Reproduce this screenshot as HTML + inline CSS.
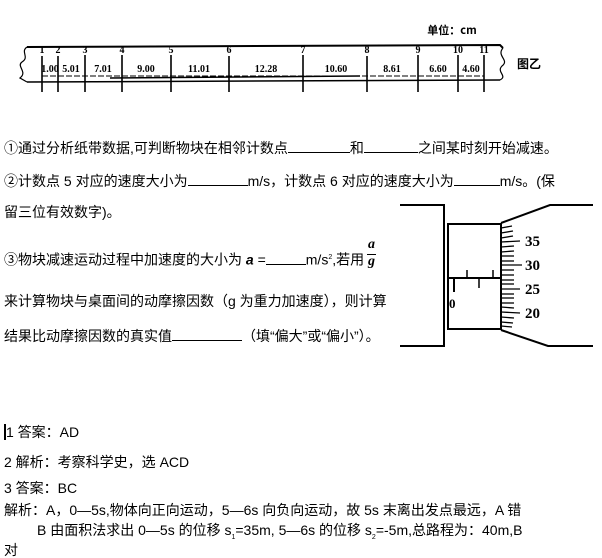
<!DOCTYPE html>
<html><head><meta charset="utf-8"><style>
body{margin:0;width:602px;height:558px;background:#fff;position:relative;overflow:hidden;font-family:"Liberation Sans","Noto Sans CJK SC",sans-serif;color:#000}
.t{position:absolute;white-space:nowrap;font-size:14px;line-height:16px}
.b{display:inline-block;border-bottom:1.5px solid #000;height:12px;vertical-align:baseline}
</style></head><body>
<svg width="602" height="558" style="position:absolute;left:0;top:0" font-family="Liberation Serif,serif">
<g stroke="#000" fill="none">
<path d="M27 47 L500 45 L502 47 L503 48" stroke-width="2"/>
<path d="M27 82 L500 80" stroke-width="1.5"/>
<path d="M27 47 C20 52,30 57,22 62 C16 66,28 72,20 78 L27 82" stroke-width="1.2"/>
<path d="M503 48 C496 56,510 60,502 66 C496 72,508 76,500 80" stroke-width="1.2"/>
<path d="M42 76 L484 76" stroke-width="1" stroke-dasharray="6 2"/>
<path d="M110 78 L360 76" stroke-width="1.5"/>
</g>
<g stroke="#000" stroke-width="1.6">
<line x1="42" y1="56" x2="42" y2="92"/><line x1="58" y1="56" x2="58" y2="92"/><line x1="85" y1="55" x2="85" y2="92"/><line x1="122" y1="55" x2="122" y2="92"/><line x1="171" y1="55" x2="171" y2="92"/><line x1="229" y1="56" x2="229" y2="92"/><line x1="303" y1="55" x2="303" y2="92"/><line x1="367" y1="56" x2="367" y2="92"/><line x1="418" y1="55" x2="418" y2="92"/><line x1="458" y1="55" x2="458" y2="92"/><line x1="484" y1="55" x2="484" y2="92"/>
</g>
<g font-size="10" font-weight="bold" text-anchor="middle">
<text x="42" y="53">1</text><text x="58" y="53">2</text><text x="85" y="53">3</text><text x="122" y="53">4</text><text x="171" y="53">5</text><text x="229" y="53">6</text><text x="303" y="53">7</text><text x="367" y="53">8</text><text x="418" y="53">9</text><text x="458" y="53">10</text><text x="484" y="53">11</text>
<text x="50" y="72">1.00</text><text x="71" y="72">5.01</text><text x="103" y="72">7.01</text><text x="146" y="72">9.00</text><text x="199" y="72">11.01</text><text x="266" y="72">12.28</text><text x="336" y="72">10.60</text><text x="392" y="72">8.61</text><text x="438" y="72">6.60</text><text x="471" y="72">4.60</text>
<text x="452" y="34" font-size="11" font-family="Noto Sans CJK SC,sans-serif">单位：cm</text>
<text x="529" y="68" font-size="12" font-family="Noto Sans CJK SC,sans-serif">图乙</text>
</g>
<g stroke="#000" fill="none" stroke-width="2">
<path d="M400 205 L444 205 L444 346 L400 346"/>
<rect x="448" y="224" width="53" height="105"/>
<line x1="448" y1="278" x2="501" y2="278"/>
<path d="M501 223 L550 205 L593 205"/>
<path d="M501 330 L548 346 L593 346"/>
<line x1="454" y1="279" x2="454" y2="292"/>
<line x1="467" y1="270" x2="467" y2="278" stroke-width="1.5"/>
<line x1="479" y1="278" x2="479" y2="288" stroke-width="1.5"/>
<line x1="493" y1="270" x2="493" y2="278" stroke-width="1.5"/>
</g>
<g stroke="#000" stroke-width="1.3">
<line x1="501" y1="228" x2="512" y2="226"/><line x1="501" y1="233" x2="513" y2="231"/><line x1="501" y1="238" x2="513" y2="236"/><line x1="501" y1="242" x2="520" y2="241"/><line x1="501" y1="247" x2="514" y2="246"/><line x1="501" y1="252" x2="514" y2="251"/><line x1="501" y1="256" x2="514" y2="256"/><line x1="501" y1="261" x2="514" y2="261"/><line x1="501" y1="265" x2="522" y2="265"/><line x1="501" y1="270" x2="514" y2="270"/><line x1="501" y1="275" x2="514" y2="275"/><line x1="501" y1="280" x2="514" y2="280"/><line x1="501" y1="284" x2="514" y2="284"/><line x1="501" y1="289" x2="520" y2="289"/><line x1="501" y1="294" x2="514" y2="294"/><line x1="501" y1="298" x2="514" y2="298"/><line x1="501" y1="303" x2="514" y2="303"/><line x1="501" y1="307" x2="514" y2="308"/><line x1="501" y1="312" x2="520" y2="313"/><line x1="501" y1="317" x2="514" y2="318"/><line x1="501" y1="322" x2="513" y2="323"/><line x1="501" y1="326" x2="512" y2="327"/>
</g>
<g font-size="15" font-weight="bold">
<text x="525" y="246">35</text><text x="525" y="270">30</text><text x="525" y="294">25</text><text x="525" y="318">20</text>
<text x="449" y="308" font-size="13">0</text>
</g>
</svg>
<div class="t" style="left:4px;top:140px">①通过分析纸带数据,可判断物块在相邻计数点<span class="b" style="width:62px"></span>和<span class="b" style="width:54px"></span>之间某时刻开始减速。</div>
<div class="t" style="left:4px;top:173px">②计数点 5 对应的速度大小为<span class="b" style="width:60px"></span>m/s，计数点 6 对应的速度大小为<span class="b" style="width:46px"></span>m/s。(保</div>
<div class="t" style="left:4px;top:204px">留三位有效数字)。</div>
<div class="t" style="left:4px;top:250px">③物块减速运动过程中加速度的大小为 <b><i>a</i></b> =<span class="b" style="width:40px"></span>m/s<sup style="font-size:7px">2</sup>,若用</div>
<div class="t" style="left:367px;top:238px;font-family:'Liberation Serif',serif;font-weight:bold;font-style:italic;text-align:center;line-height:14px">a<br><span style="display:block;border-top:1px solid #000;width:9px;margin-top:2px">g</span></div>
<div class="t" style="left:4px;top:293px">来计算物块与桌面间的动摩擦因数（g 为重力加速度），则计算</div>
<div class="t" style="left:4px;top:328px">结果比动摩擦因数的真实值<span class="b" style="width:70px"></span>（填“偏大”或“偏小”）。</div>
<div class="t" style="left:4px;top:424px"><span style="border-left:2px solid #000">1</span> 答案：AD</div>
<div class="t" style="left:4px;top:454px">2 解析：考察科学史，选 ACD</div>
<div class="t" style="left:4px;top:480px">3 答案：BC</div>
<div class="t" style="left:4px;top:502px">解析：A，0—5s,物体向正向运动，5—6s 向负向运动，故 5s 末离出发点最远，A 错</div>
<div class="t" style="left:37px;top:522px">B 由面积法求出 0—5s 的位移 s<sub style="font-size:7px">1</sub>=35m, 5—6s 的位移 s<sub style="font-size:7px">2</sub>=-5m,总路程为：40m,B</div>
<div class="t" style="left:4px;top:542px">对</div>
</body></html>
